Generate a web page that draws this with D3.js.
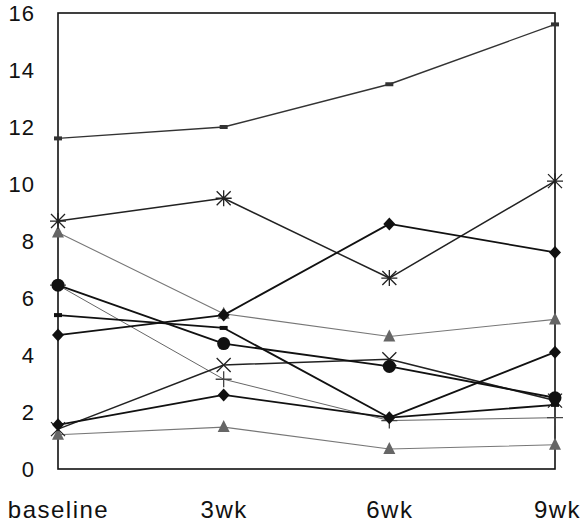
<!DOCTYPE html>
<html><head><meta charset="utf-8">
<script src="https://cdn.jsdelivr.net/npm/d3@7"></script>
<style>
html,body{margin:0;padding:0;background:#fff;}
svg{display:block;}
text{font-family:"Liberation Sans",Arial,sans-serif;fill:#111;}
</style></head>
<body>
<script>
const categories = ["baseline", "3wk", "6wk", "9wk"];
const yTicks = [0, 2, 4, 6, 8, 10, 12, 14, 16];

const seriesTop       = [11.6, 12.0, 13.5, 15.6];
const seriesAsterisk  = [8.7, 9.5, 6.7, 10.1];
const seriesDiamondA  = [4.7, 5.4, 8.6, 7.6];
const seriesTriangleA = [8.3, 5.45, 4.65, 5.25];
const seriesCircle    = [6.45, 4.4, 3.6, 2.5];
const seriesDash      = [5.4, 4.95, 1.8, 2.25];
const seriesPlus      = [6.45, 3.15, 1.7, 1.8];
const seriesX         = [1.4, 3.65, 3.85, 2.4];
const seriesDiamondB  = [1.55, 2.6, 1.8, 4.1];
const seriesTriangleB = [1.2, 1.47, 0.7, 0.85];

const series = [
  {values: seriesTriangleA, marker: "triangle", color: "#777", width: 1.1},
  {values: seriesTriangleB, marker: "triangle", color: "#777", width: 1.1},
  {values: seriesPlus,      marker: "plus",     color: "#666", width: 1.0},
  {values: seriesTop,       marker: "dash",     color: "#333", width: 1.4},
  {values: seriesAsterisk,  marker: "asterisk", color: "#222", width: 1.5},
  {values: seriesX,         marker: "x",        color: "#222", width: 1.5},
  {values: seriesDash,      marker: "dash",     color: "#111", width: 1.8},
  {values: seriesCircle,    marker: "circle",   color: "#111", width: 1.8},
  {values: seriesDiamondA,  marker: "diamond",  color: "#111", width: 1.8},
  {values: seriesDiamondB,  marker: "diamond",  color: "#111", width: 1.8}
];

const W = 583, H = 524;
const mLeft = 58, mRight = 555, mTop = 13, mBottom = 469;

const svg = d3.select("body").append("svg").attr("width", W).attr("height", H);

const x = d3.scalePoint().domain(categories).range([mLeft, mRight]).padding(0);
const y = d3.scaleLinear().domain([0, 16]).range([mBottom, mTop]);

// frame
svg.append("rect").attr("x", mLeft).attr("y", mTop)
  .attr("width", mRight - mLeft).attr("height", mBottom - mTop)
  .attr("fill", "none").attr("stroke", "#111").attr("stroke-width", 1.6);

// y axis labels
const yAxis = d3.axisLeft(y).tickValues(yTicks).tickSize(0).tickPadding(23)
  .tickFormat(d3.format("d"));
const gy = svg.append("g").attr("transform", `translate(${mLeft},0)`).call(yAxis);
gy.select(".domain").remove();
gy.selectAll("text").style("font-size", "22px").style("letter-spacing", "1px")
  .style("font-family", "'Liberation Sans', Arial, sans-serif")
  .attr("fill", "#111").attr("dy", "0.36em");

// x axis labels
const xAxis = d3.axisBottom(x).tickSize(0).tickPadding(32);
const gx = svg.append("g").attr("transform", `translate(0,${mBottom})`).call(xAxis);
gx.select(".domain").remove();
gx.selectAll("text").style("font-size", "24px").style("letter-spacing", "1.5px")
  .style("font-family", "'Liberation Sans', Arial, sans-serif")
  .attr("fill", "#111").attr("dy", "0.71em");
gx.selectAll(".tick").filter(d => d === "9wk").select("text").attr("dx", "2");

const line = d3.line().x((d, i) => x(categories[i])).y(d => y(d));

series.forEach(s => {
  svg.append("path").datum(s.values).attr("d", line)
    .attr("fill", "none").attr("stroke", s.color).attr("stroke-width", s.width)
    .attr("stroke-linejoin", "round");
});

function drawMarker(g, s, v, i) {
  const cx = x(categories[i]), cy = y(v);
  const m = g.append("g").attr("transform", `translate(${cx},${cy})`);
  switch (s.marker) {
    case "circle":
      m.append("circle").attr("r", 6.5).attr("fill", "#111");
      break;
    case "diamond":
      m.append("path").attr("d", "M0,-6.5L6,0L0,6.5L-6,0Z").attr("fill", "#111");
      break;
    case "triangle":
      m.append("path").attr("d", "M0,-7L6,5L-6,5Z").attr("fill", "#666");
      break;
    case "dash":
      m.append("rect").attr("x", -4).attr("y", -2).attr("width", 8).attr("height", 4).attr("fill", s.color);
      break;
    case "plus":
      m.append("path").attr("d", "M-8,0H8M0,-8V8").attr("stroke", "#444").attr("stroke-width", 1.3);
      break;
    case "x":
      m.append("path").attr("d", "M-7,-7L7,7M-7,7L7,-7").attr("stroke", "#222").attr("stroke-width", 1.3);
      break;
    case "asterisk":
      m.append("path").attr("d", "M-7,-7L7,7M-7,7L7,-7M0,-8V8M-8,0H8").attr("stroke", "#222").attr("stroke-width", 1.3);
      break;
  }
}

const mg = svg.append("g");
series.forEach(s => s.values.forEach((v, i) => drawMarker(mg, s, v, i)));
</script>
</body></html>
